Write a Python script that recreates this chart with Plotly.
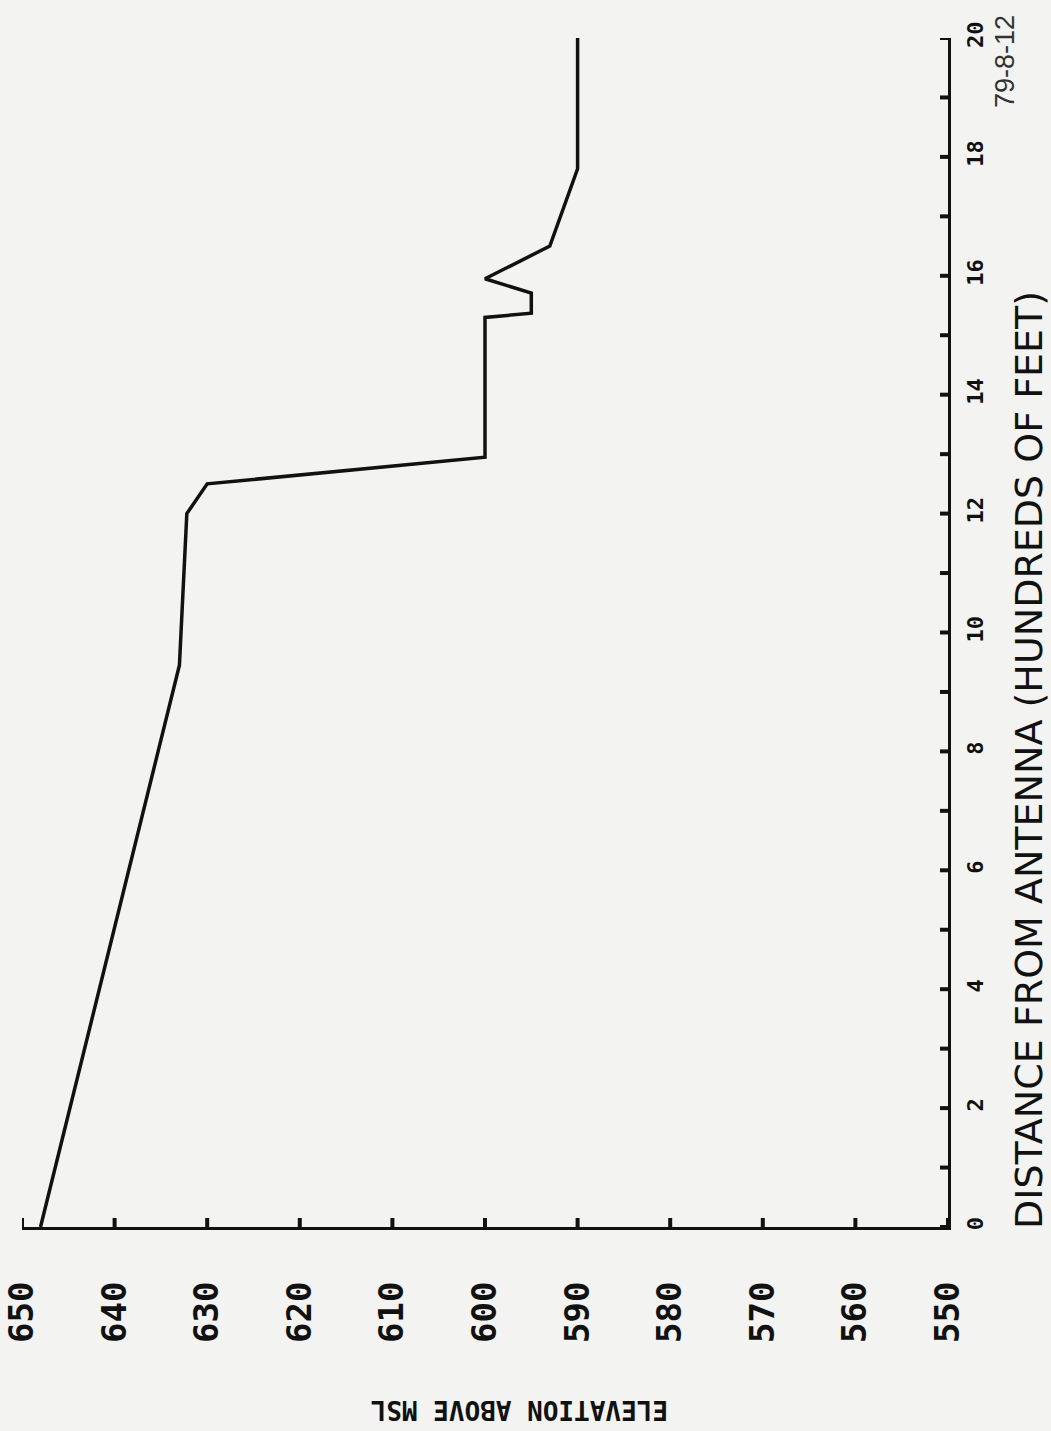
import plotly.graph_objects as go

# Profile data (distance in hundreds of feet, elevation in feet above MSL)
distance = [0, 9.45, 12.0, 12.5, 12.95, 15.3, 15.37, 15.71, 15.95, 16.5, 17.8, 20.0]
elevation = [648, 633, 632.2, 630, 600, 600, 595, 595, 600, 593, 590, 590]

elev_ticks = [650, 640, 630, 620, 610, 600, 590, 580, 570, 560, 550]
elev_labels = [str(v) for v in elev_ticks]
dist_minor = list(range(0, 21))
dist_ticks = list(range(0, 21, 2))
dist_labels = [str(v) for v in dist_ticks]

BG = "#f3f3f2"
INK = "#111111"

fig = go.Figure()
fig.add_trace(go.Scatter(x=elevation, y=distance, mode="lines",
                         line=dict(color=INK, width=3.5), hoverinfo="skip",
                         showlegend=False))

shapes = []
for v in elev_ticks:
    shapes.append(dict(type="line", xref="x", yref="y", x0=v, x1=v,
                       ysizemode="pixel", yanchor=0, y0=-9, y1=9,
                       line=dict(color=INK, width=4)))
for d in dist_minor:
    shapes.append(dict(type="line", yref="y", xref="x", y0=d, y1=d,
                       xsizemode="pixel", xanchor=550, x0=-8, x1=8,
                       line=dict(color=INK, width=4)))

fig.update_layout(
    width=1051, height=1431,
    margin=dict(l=22, r=103, t=38, b=204, pad=0, autoexpand=False),
    paper_bgcolor=BG, plot_bgcolor=BG,
    shapes=shapes,
    xaxis=dict(range=[650, 550], tickvals=elev_ticks, ticktext=elev_labels,
               tickangle=-90, ticks="", showgrid=False, zeroline=False,
               showline=True, linecolor=INK, linewidth=3, automargin=False,
               ticklabelstandoff=38, ticklabeloverflow="allow",
               tickfont=dict(family="DejaVu Sans Mono", size=34, color=INK, weight="bold")),
    yaxis=dict(range=[0, 20], tickvals=dist_ticks, ticktext=dist_labels,
               side="right", tickangle=-90, ticks="", showgrid=False,
               zeroline=False, showline=True, linecolor=INK, linewidth=3,
               automargin=False, ticklabelstandoff=6, ticklabeloverflow="allow",
               tickfont=dict(family="DejaVu Sans Mono", size=22, color=INK, weight="bold")),
    annotations=[
        dict(text="ELEVATION ABOVE MSL", xref="paper", yref="paper",
             x=0.5378, y=-0.1539, xanchor="center", yanchor="middle",
             textangle=180, showarrow=False,
             font=dict(family="DejaVu Sans Mono", size=26, color=INK, weight="bold")),
        dict(text="DISTANCE FROM ANTENNA (HUNDREDS OF FEET)", xref="paper", yref="paper",
             x=1.0875, y=0.3928, xanchor="center", yanchor="middle",
             textangle=-90, showarrow=False,
             font=dict(family="DejaVu Sans", size=38, color=INK)),
        dict(text="79-8-12", xref="paper", yref="paper",
             x=1.0616, y=0.9798, xanchor="center", yanchor="middle",
             textangle=-90, showarrow=False,
             font=dict(family="Liberation Sans", size=27, color="#333333")),
    ],
)

fig.write_html("out.html",
               config={"displayModeBar": False},
               post_script="document.body.style.margin='0';"
                           "document.body.style.background='#f3f3f2';")
